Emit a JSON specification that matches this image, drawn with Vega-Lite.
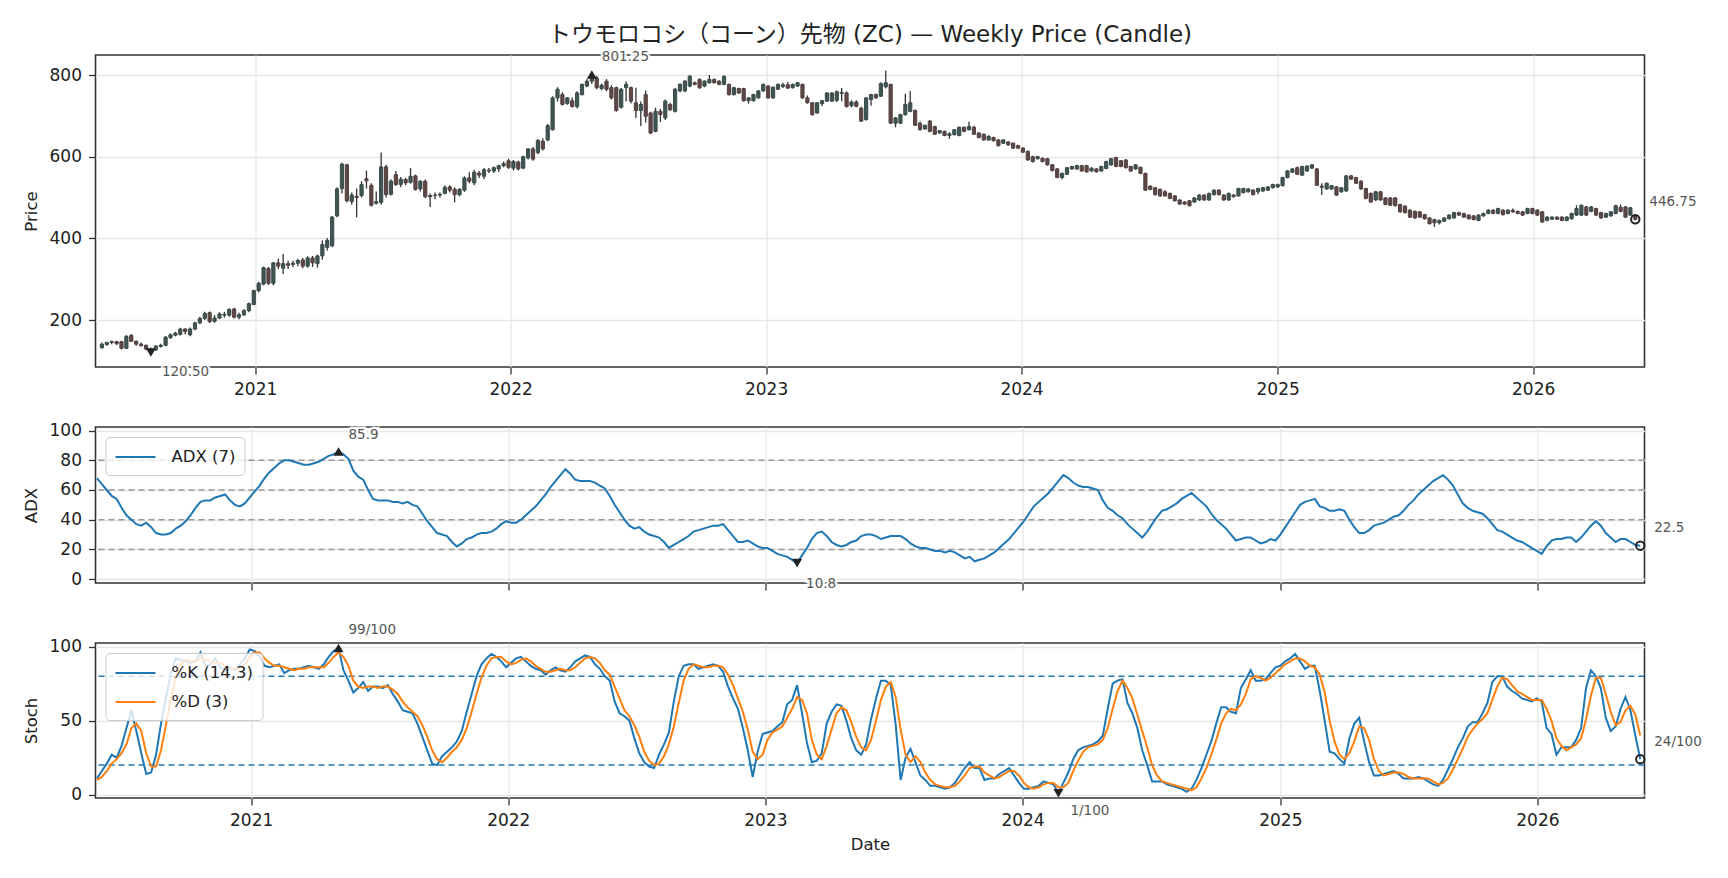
{
"$schema": "https://vega.github.io/schema/vega-lite/v6.json",
"background": "white",
"padding": {"left": 21.5, "top": 22, "right": 10, "bottom": 10},
"config": {
 "font": "DejaVu Sans, Noto Sans CJK JP, sans-serif",
 "view": {"stroke": "#333333", "strokeWidth": 1.6},
 "axis": {"domain": false, "grid": true, "gridColor": "#e6e6e6", "gridWidth": 1.3, "tickColor": "#333333", "tickSize": 7, "tickWidth": 1.3, "labelFontSize": 17, "labelColor": "#222222", "labelPadding": 7, "labelOverlap": false, "titleFontSize": 16.5, "titleFontWeight": "normal", "titleColor": "#222222", "labelFont": "DejaVu Sans", "titleFont": "DejaVu Sans"},
 "axisY": {"titlePadding": 10, "labelOverlap": false},
 "axisQuantitative": {"labelOverlap": false},
 "legend": {"orient": "top-left", "offset": 10, "fillColor": "rgba(255,255,255,0.8)", "strokeColor": "#cccccc", "cornerRadius": 4, "padding": 9, "symbolType": "M-2,0H2", "symbolSize": 400, "symbolStrokeWidth": 2, "symbolOffset": 10, "labelFontSize": 16.5, "labelColor": "#222222", "labelFont": "DejaVu Sans", "labelOffset": 25, "rowPadding": 9, "title": null}
},
"datasets": {"w": [
{"t":"2020-05-27","o":132,"h":145,"l":130,"c":141,"a":68,"k":11,"d":10},
{"t":"2020-06-03","o":140,"h":147,"l":137,"c":145,"a":64,"k":16,"d":12},
{"t":"2020-06-10","o":145,"h":150,"l":141,"c":147,"a":60,"k":21,"d":16},
{"t":"2020-06-17","o":147,"h":149,"l":139,"c":142,"a":56,"k":27,"d":21},
{"t":"2020-06-24","o":147,"h":149,"l":128,"c":131,"a":54,"k":25,"d":24},
{"t":"2020-07-01","o":131,"h":163,"l":129,"c":160,"a":48,"k":33,"d":28},
{"t":"2020-07-08","o":162,"h":166,"l":146,"c":148,"a":43,"k":45,"d":34},
{"t":"2020-07-15","o":148,"h":150,"l":137,"c":141,"a":40,"k":57,"d":45},
{"t":"2020-07-22","o":141,"h":145,"l":135,"c":137,"a":37,"k":43,"d":48},
{"t":"2020-07-29","o":138,"h":140,"l":126,"c":129,"a":36,"k":28,"d":43},
{"t":"2020-08-05","o":129,"h":133,"l":119,"c":120.5,"a":38,"k":14,"d":28},
{"t":"2020-08-12","o":127,"h":139,"l":124,"c":136,"a":35,"k":15,"d":19},
{"t":"2020-08-19","o":135,"h":142,"l":133,"c":138,"a":31,"k":27,"d":19},
{"t":"2020-08-26","o":138,"h":161,"l":136,"c":158,"a":30,"k":48,"d":30},
{"t":"2020-09-02","o":157,"h":167,"l":154,"c":164,"a":30,"k":65,"d":47},
{"t":"2020-09-09","o":163,"h":171,"l":160,"c":168,"a":31,"k":82,"d":65},
{"t":"2020-09-16","o":165,"h":181,"l":162,"c":178,"a":34,"k":92,"d":80},
{"t":"2020-09-23","o":178,"h":180,"l":165,"c":172,"a":36,"k":91,"d":88},
{"t":"2020-09-30","o":164,"h":182,"l":160,"c":178,"a":39,"k":90,"d":91},
{"t":"2020-10-07","o":178,"h":196,"l":175,"c":193,"a":43,"k":89,"d":90},
{"t":"2020-10-14","o":193,"h":208,"l":190,"c":204,"a":48,"k":90,"d":90},
{"t":"2020-10-21","o":204,"h":220,"l":200,"c":216,"a":52,"k":96,"d":92},
{"t":"2020-10-28","o":218,"h":221,"l":193,"c":196,"a":53,"k":87,"d":91},
{"t":"2020-11-04","o":197,"h":212,"l":193,"c":205,"a":53,"k":88,"d":90},
{"t":"2020-11-11","o":205,"h":219,"l":202,"c":215,"a":55,"k":92,"d":89},
{"t":"2020-11-18","o":212,"h":220,"l":206,"c":214,"a":56,"k":86,"d":89},
{"t":"2020-11-25","o":212,"h":229,"l":208,"c":226,"a":57,"k":84,"d":87},
{"t":"2020-12-02","o":227,"h":230,"l":204,"c":207,"a":53,"k":86,"d":85},
{"t":"2020-12-09","o":207,"h":218,"l":202,"c":213,"a":50,"k":84,"d":85},
{"t":"2020-12-16","o":213,"h":227,"l":210,"c":223,"a":49,"k":88,"d":86},
{"t":"2020-12-23","o":223,"h":243,"l":219,"c":240,"a":51,"k":92,"d":88},
{"t":"2020-12-30","o":238,"h":274,"l":236,"c":272,"a":55,"k":98,"d":93},
{"t":"2021-01-06","o":272,"h":294,"l":268,"c":290,"a":59,"k":97,"d":96},
{"t":"2021-01-13","o":288,"h":331,"l":285,"c":328,"a":63,"k":93,"d":96},
{"t":"2021-01-20","o":326,"h":330,"l":286,"c":290,"a":68,"k":87,"d":92},
{"t":"2021-01-27","o":290,"h":342,"l":285,"c":340,"a":72,"k":86,"d":89},
{"t":"2021-02-03","o":340,"h":350,"l":325,"c":332,"a":75,"k":87,"d":87},
{"t":"2021-02-10","o":327,"h":362,"l":313,"c":338,"a":78,"k":88,"d":87},
{"t":"2021-02-17","o":338,"h":345,"l":325,"c":334,"a":80,"k":82,"d":86},
{"t":"2021-02-24","o":336,"h":345,"l":330,"c":339,"a":80,"k":84,"d":85},
{"t":"2021-03-03","o":339,"h":350,"l":332,"c":346,"a":79,"k":85,"d":84},
{"t":"2021-03-10","o":347,"h":352,"l":327,"c":332,"a":78,"k":85,"d":85},
{"t":"2021-03-17","o":332,"h":356,"l":328,"c":352,"a":77,"k":86,"d":85},
{"t":"2021-03-24","o":352,"h":357,"l":330,"c":340,"a":77,"k":87,"d":86},
{"t":"2021-03-31","o":338,"h":360,"l":328,"c":357,"a":78,"k":86,"d":86},
{"t":"2021-04-07","o":357,"h":395,"l":348,"c":385,"a":79,"k":85,"d":86},
{"t":"2021-04-14","o":378,"h":401,"l":370,"c":395,"a":81,"k":88,"d":86},
{"t":"2021-04-21","o":382,"h":455,"l":378,"c":452,"a":83,"k":93,"d":89},
{"t":"2021-04-28","o":455,"h":525,"l":452,"c":521,"a":84,"k":97,"d":93},
{"t":"2021-05-05","o":522,"h":585,"l":510,"c":582,"a":85.9,"k":99,"d":96},
{"t":"2021-05-12","o":580,"h":583,"l":488,"c":492,"a":84,"k":84,"d":93},
{"t":"2021-05-19","o":490,"h":512,"l":482,"c":506,"a":81,"k":77,"d":87},
{"t":"2021-05-26","o":503,"h":522,"l":452,"c":500,"a":73,"k":69,"d":77},
{"t":"2021-06-02","o":505,"h":540,"l":500,"c":532,"a":69,"k":72,"d":73},
{"t":"2021-06-09","o":546,"h":566,"l":522,"c":541,"a":67,"k":76,"d":72},
{"t":"2021-06-16","o":530,"h":535,"l":478,"c":481,"a":60,"k":70,"d":73},
{"t":"2021-06-23","o":486,"h":515,"l":483,"c":490,"a":54,"k":73,"d":73},
{"t":"2021-06-30","o":488,"h":610,"l":482,"c":575,"a":53,"k":73,"d":72},
{"t":"2021-07-07","o":575,"h":580,"l":500,"c":507,"a":53,"k":72,"d":73},
{"t":"2021-07-14","o":508,"h":545,"l":505,"c":540,"a":53,"k":74,"d":73},
{"t":"2021-07-21","o":556,"h":565,"l":528,"c":532,"a":52,"k":68,"d":71},
{"t":"2021-07-28","o":532,"h":550,"l":525,"c":545,"a":52,"k":63,"d":68},
{"t":"2021-08-04","o":544,"h":548,"l":530,"c":536,"a":51,"k":57,"d":63},
{"t":"2021-08-11","o":537,"h":572,"l":534,"c":552,"a":52,"k":56,"d":59},
{"t":"2021-08-18","o":553,"h":556,"l":517,"c":520,"a":50,"k":55,"d":56},
{"t":"2021-08-25","o":521,"h":542,"l":515,"c":540,"a":49,"k":48,"d":53},
{"t":"2021-09-01","o":540,"h":544,"l":498,"c":502,"a":44,"k":39,"d":47},
{"t":"2021-09-08","o":502,"h":510,"l":477,"c":505,"a":39,"k":30,"d":39},
{"t":"2021-09-15","o":505,"h":512,"l":496,"c":506,"a":35,"k":21,"d":30},
{"t":"2021-09-22","o":506,"h":512,"l":500,"c":508,"a":31,"k":20,"d":24},
{"t":"2021-09-29","o":510,"h":530,"l":508,"c":525,"a":30,"k":26,"d":22},
{"t":"2021-10-06","o":526,"h":530,"l":512,"c":518,"a":29,"k":29,"d":25},
{"t":"2021-10-13","o":520,"h":525,"l":488,"c":507,"a":25,"k":32,"d":29},
{"t":"2021-10-20","o":507,"h":523,"l":503,"c":520,"a":22,"k":36,"d":32},
{"t":"2021-10-27","o":518,"h":552,"l":514,"c":548,"a":24,"k":43,"d":37},
{"t":"2021-11-03","o":548,"h":562,"l":535,"c":540,"a":27,"k":56,"d":45},
{"t":"2021-11-10","o":536,"h":568,"l":530,"c":562,"a":28,"k":68,"d":56},
{"t":"2021-11-17","o":560,"h":565,"l":548,"c":555,"a":30,"k":80,"d":68},
{"t":"2021-11-24","o":552,"h":572,"l":545,"c":568,"a":31,"k":88,"d":79},
{"t":"2021-12-01","o":567,"h":572,"l":560,"c":565,"a":31,"k":92,"d":87},
{"t":"2021-12-08","o":565,"h":576,"l":560,"c":573,"a":32,"k":95,"d":92},
{"t":"2021-12-15","o":570,"h":580,"l":563,"c":578,"a":34,"k":93,"d":93},
{"t":"2021-12-22","o":578,"h":588,"l":574,"c":583,"a":37,"k":90,"d":93},
{"t":"2021-12-29","o":590,"h":595,"l":570,"c":574,"a":39,"k":86,"d":90},
{"t":"2022-01-05","o":572,"h":592,"l":566,"c":588,"a":38,"k":89,"d":88},
{"t":"2022-01-12","o":587,"h":590,"l":566,"c":570,"a":38,"k":92,"d":89},
{"t":"2022-01-19","o":572,"h":602,"l":569,"c":600,"a":40,"k":93,"d":91},
{"t":"2022-01-26","o":597,"h":621,"l":593,"c":619,"a":43,"k":90,"d":92},
{"t":"2022-02-02","o":619,"h":624,"l":590,"c":594,"a":46,"k":87,"d":90},
{"t":"2022-02-09","o":610,"h":643,"l":606,"c":640,"a":49,"k":85,"d":87},
{"t":"2022-02-16","o":638,"h":645,"l":615,"c":619,"a":53,"k":84,"d":85},
{"t":"2022-02-23","o":641,"h":680,"l":638,"c":676,"a":57,"k":81,"d":83},
{"t":"2022-03-02","o":666,"h":748,"l":664,"c":744,"a":62,"k":84,"d":83},
{"t":"2022-03-09","o":744,"h":770,"l":735,"c":765,"a":66,"k":86,"d":84},
{"t":"2022-03-16","o":752,"h":758,"l":725,"c":728,"a":70,"k":84,"d":85},
{"t":"2022-03-23","o":730,"h":746,"l":727,"c":744,"a":74,"k":83,"d":84},
{"t":"2022-03-30","o":737,"h":745,"l":720,"c":723,"a":71,"k":86,"d":84},
{"t":"2022-04-06","o":723,"h":760,"l":718,"c":756,"a":67,"k":90,"d":86},
{"t":"2022-04-13","o":752,"h":779,"l":750,"c":777,"a":66,"k":92,"d":89},
{"t":"2022-04-20","o":773,"h":790,"l":770,"c":785,"a":66,"k":94,"d":92},
{"t":"2022-04-27","o":785,"h":805,"l":778,"c":801.25,"a":66,"k":93,"d":93},
{"t":"2022-05-04","o":793,"h":798,"l":765,"c":769,"a":65,"k":88,"d":92},
{"t":"2022-05-11","o":767,"h":779,"l":763,"c":775,"a":63,"k":85,"d":89},
{"t":"2022-05-18","o":785,"h":790,"l":760,"c":765,"a":61,"k":80,"d":84},
{"t":"2022-05-25","o":769,"h":775,"l":740,"c":744,"a":56,"k":77,"d":81},
{"t":"2022-06-01","o":769,"h":772,"l":710,"c":713,"a":50,"k":63,"d":73},
{"t":"2022-06-08","o":721,"h":768,"l":718,"c":765,"a":45,"k":55,"d":65},
{"t":"2022-06-15","o":769,"h":785,"l":735,"c":777,"a":40,"k":53,"d":57},
{"t":"2022-06-22","o":769,"h":772,"l":730,"c":736,"a":36,"k":50,"d":53},
{"t":"2022-06-29","o":732,"h":769,"l":695,"c":713,"a":34,"k":38,"d":47},
{"t":"2022-07-06","o":713,"h":735,"l":675,"c":728,"a":35,"k":28,"d":39},
{"t":"2022-07-13","o":752,"h":762,"l":684,"c":699,"a":32,"k":22,"d":29},
{"t":"2022-07-20","o":707,"h":710,"l":655,"c":658,"a":30,"k":19,"d":23},
{"t":"2022-07-27","o":662,"h":720,"l":660,"c":711,"a":29,"k":18,"d":20},
{"t":"2022-08-03","o":711,"h":717,"l":685,"c":703,"a":28,"k":27,"d":21},
{"t":"2022-08-10","o":695,"h":740,"l":690,"c":736,"a":25,"k":34,"d":26},
{"t":"2022-08-17","o":728,"h":732,"l":712,"c":715,"a":21,"k":42,"d":34},
{"t":"2022-08-24","o":711,"h":768,"l":708,"c":765,"a":23,"k":63,"d":46},
{"t":"2022-08-31","o":761,"h":780,"l":758,"c":777,"a":25,"k":80,"d":62},
{"t":"2022-09-07","o":761,"h":787,"l":758,"c":785,"a":27,"k":87,"d":77},
{"t":"2022-09-14","o":773,"h":800,"l":770,"c":797,"a":29,"k":88,"d":85},
{"t":"2022-09-21","o":781,"h":784,"l":775,"c":777,"a":32,"k":88,"d":88},
{"t":"2022-09-28","o":789,"h":792,"l":766,"c":769,"a":33,"k":85,"d":87},
{"t":"2022-10-05","o":773,"h":787,"l":770,"c":785,"a":34,"k":86,"d":86},
{"t":"2022-10-12","o":781,"h":800,"l":779,"c":789,"a":35,"k":87,"d":86},
{"t":"2022-10-19","o":789,"h":792,"l":779,"c":781,"a":36,"k":88,"d":87},
{"t":"2022-10-26","o":785,"h":787,"l":775,"c":777,"a":36,"k":87,"d":87},
{"t":"2022-11-02","o":777,"h":799,"l":775,"c":797,"a":37,"k":83,"d":86},
{"t":"2022-11-09","o":777,"h":779,"l":750,"c":752,"a":33,"k":73,"d":81},
{"t":"2022-11-16","o":752,"h":771,"l":750,"c":769,"a":29,"k":65,"d":74},
{"t":"2022-11-23","o":767,"h":769,"l":754,"c":756,"a":25,"k":58,"d":65},
{"t":"2022-11-30","o":767,"h":769,"l":735,"c":737,"a":25,"k":45,"d":56},
{"t":"2022-12-07","o":737,"h":746,"l":730,"c":744,"a":26,"k":30,"d":44},
{"t":"2022-12-14","o":737,"h":754,"l":735,"c":752,"a":24,"k":12,"d":29},
{"t":"2022-12-21","o":744,"h":763,"l":742,"c":761,"a":22,"k":29,"d":24},
{"t":"2022-12-28","o":761,"h":779,"l":759,"c":777,"a":21,"k":41,"d":27},
{"t":"2023-01-04","o":773,"h":775,"l":742,"c":744,"a":21,"k":42,"d":37},
{"t":"2023-01-11","o":744,"h":772,"l":742,"c":770,"a":19,"k":43,"d":42},
{"t":"2023-01-18","o":765,"h":779,"l":763,"c":777,"a":17,"k":46,"d":44},
{"t":"2023-01-25","o":772,"h":781,"l":768,"c":776,"a":16,"k":49,"d":46},
{"t":"2023-02-01","o":776,"h":783,"l":766,"c":768,"a":15,"k":61,"d":52},
{"t":"2023-02-08","o":769,"h":779,"l":767,"c":777,"a":13,"k":64,"d":58},
{"t":"2023-02-15","o":773,"h":783,"l":771,"c":781,"a":10.8,"k":74,"d":66},
{"t":"2023-02-22","o":777,"h":779,"l":742,"c":744,"a":16,"k":55,"d":64},
{"t":"2023-03-01","o":744,"h":750,"l":730,"c":732,"a":21,"k":35,"d":55},
{"t":"2023-03-08","o":732,"h":734,"l":700,"c":703,"a":27,"k":22,"d":37},
{"t":"2023-03-15","o":707,"h":734,"l":705,"c":732,"a":31,"k":23,"d":27},
{"t":"2023-03-22","o":730,"h":739,"l":724,"c":737,"a":32,"k":28,"d":24},
{"t":"2023-03-29","o":736,"h":758,"l":734,"c":756,"a":29,"k":48,"d":33},
{"t":"2023-04-05","o":736,"h":758,"l":734,"c":756,"a":25,"k":56,"d":44},
{"t":"2023-04-12","o":738,"h":762,"l":734,"c":759,"a":23,"k":61,"d":55},
{"t":"2023-04-19","o":755,"h":768,"l":736,"c":757,"a":22,"k":60,"d":59},
{"t":"2023-04-26","o":756,"h":760,"l":720,"c":723,"a":23,"k":50,"d":57},
{"t":"2023-05-03","o":725,"h":738,"l":721,"c":734,"a":25,"k":38,"d":49},
{"t":"2023-05-10","o":734,"h":738,"l":721,"c":723,"a":26,"k":30,"d":39},
{"t":"2023-05-17","o":719,"h":722,"l":685,"c":687,"a":29,"k":27,"d":32},
{"t":"2023-05-24","o":691,"h":746,"l":688,"c":744,"a":30,"k":34,"d":30},
{"t":"2023-05-31","o":740,"h":754,"l":725,"c":752,"a":30,"k":51,"d":37},
{"t":"2023-06-07","o":752,"h":755,"l":742,"c":744,"a":29,"k":65,"d":50},
{"t":"2023-06-14","o":748,"h":782,"l":746,"c":779,"a":27,"k":77,"d":64},
{"t":"2023-06-21","o":771,"h":811,"l":767,"c":781,"a":28,"k":77,"d":73},
{"t":"2023-06-28","o":777,"h":779,"l":680,"c":682,"a":29,"k":74,"d":76},
{"t":"2023-07-05","o":682,"h":697,"l":672,"c":695,"a":29,"k":47,"d":66},
{"t":"2023-07-12","o":682,"h":705,"l":680,"c":703,"a":29,"k":10,"d":44},
{"t":"2023-07-19","o":703,"h":754,"l":700,"c":728,"a":27,"k":25,"d":27},
{"t":"2023-07-26","o":711,"h":760,"l":709,"c":732,"a":24,"k":31,"d":22},
{"t":"2023-08-02","o":713,"h":716,"l":675,"c":677,"a":22,"k":22,"d":26},
{"t":"2023-08-09","o":682,"h":686,"l":664,"c":666,"a":21,"k":13,"d":22},
{"t":"2023-08-16","o":668,"h":678,"l":666,"c":677,"a":21,"k":10,"d":15},
{"t":"2023-08-23","o":687,"h":690,"l":660,"c":662,"a":20,"k":6,"d":10},
{"t":"2023-08-30","o":674,"h":676,"l":653,"c":655,"a":19,"k":6,"d":7},
{"t":"2023-09-06","o":658,"h":665,"l":656,"c":664,"a":19,"k":5,"d":6},
{"t":"2023-09-13","o":662,"h":664,"l":650,"c":652,"a":18,"k":4,"d":5},
{"t":"2023-09-20","o":652,"h":660,"l":644,"c":656,"a":19,"k":5,"d":5},
{"t":"2023-09-27","o":654,"h":667,"l":652,"c":666,"a":18,"k":8,"d":6},
{"t":"2023-10-04","o":652,"h":674,"l":650,"c":672,"a":16,"k":13,"d":9},
{"t":"2023-10-11","o":672,"h":674,"l":660,"c":662,"a":14,"k":18,"d":13},
{"t":"2023-10-18","o":666,"h":686,"l":664,"c":674,"a":15,"k":22,"d":18},
{"t":"2023-10-25","o":672,"h":676,"l":653,"c":655,"a":12,"k":18,"d":19},
{"t":"2023-11-01","o":658,"h":660,"l":645,"c":647,"a":13,"k":18,"d":19},
{"t":"2023-11-08","o":655,"h":657,"l":639,"c":641,"a":14,"k":10,"d":15},
{"t":"2023-11-15","o":641,"h":652,"l":639,"c":650,"a":16,"k":11,"d":13},
{"t":"2023-11-22","o":647,"h":649,"l":637,"c":639,"a":18,"k":11,"d":11},
{"t":"2023-11-29","o":641,"h":643,"l":625,"c":627,"a":21,"k":14,"d":12},
{"t":"2023-12-06","o":633,"h":643,"l":631,"c":641,"a":24,"k":16,"d":14},
{"t":"2023-12-13","o":636,"h":638,"l":627,"c":629,"a":27,"k":18,"d":16},
{"t":"2023-12-20","o":633,"h":635,"l":619,"c":621,"a":31,"k":13,"d":16},
{"t":"2023-12-27","o":627,"h":629,"l":619,"c":621,"a":35,"k":8,"d":13},
{"t":"2024-01-03","o":621,"h":623,"l":609,"c":611,"a":39,"k":4,"d":8},
{"t":"2024-01-10","o":613,"h":615,"l":590,"c":592,"a":44,"k":4,"d":5},
{"t":"2024-01-17","o":600,"h":602,"l":586,"c":588,"a":49,"k":5,"d":4},
{"t":"2024-01-24","o":595,"h":602,"l":593,"c":600,"a":52,"k":6,"d":5},
{"t":"2024-01-31","o":596,"h":598,"l":586,"c":588,"a":55,"k":9,"d":7},
{"t":"2024-02-07","o":595,"h":597,"l":578,"c":580,"a":58,"k":8,"d":8},
{"t":"2024-02-14","o":580,"h":582,"l":564,"c":566,"a":62,"k":7,"d":8},
{"t":"2024-02-21","o":570,"h":572,"l":547,"c":549,"a":66,"k":1,"d":5},
{"t":"2024-02-28","o":549,"h":561,"l":545,"c":559,"a":70,"k":8,"d":5},
{"t":"2024-03-06","o":557,"h":575,"l":555,"c":573,"a":68,"k":15,"d":8},
{"t":"2024-03-13","o":570,"h":578,"l":568,"c":576,"a":65,"k":24,"d":16},
{"t":"2024-03-20","o":570,"h":580,"l":568,"c":578,"a":63,"k":30,"d":23},
{"t":"2024-03-27","o":578,"h":580,"l":563,"c":565,"a":62,"k":32,"d":29},
{"t":"2024-04-03","o":578,"h":580,"l":561,"c":563,"a":62,"k":33,"d":32},
{"t":"2024-04-10","o":565,"h":574,"l":563,"c":572,"a":61,"k":34,"d":33},
{"t":"2024-04-17","o":570,"h":572,"l":561,"c":563,"a":60,"k":36,"d":34},
{"t":"2024-04-24","o":565,"h":578,"l":563,"c":576,"a":53,"k":40,"d":37},
{"t":"2024-05-01","o":571,"h":590,"l":569,"c":588,"a":48,"k":58,"d":45},
{"t":"2024-05-08","o":580,"h":597,"l":578,"c":595,"a":46,"k":75,"d":58},
{"t":"2024-05-15","o":598,"h":600,"l":574,"c":576,"a":43,"k":77,"d":70},
{"t":"2024-05-22","o":590,"h":592,"l":574,"c":576,"a":41,"k":78,"d":77},
{"t":"2024-05-29","o":592,"h":594,"l":571,"c":573,"a":37,"k":62,"d":72},
{"t":"2024-06-05","o":576,"h":578,"l":563,"c":565,"a":34,"k":55,"d":65},
{"t":"2024-06-12","o":570,"h":582,"l":568,"c":580,"a":31,"k":45,"d":54},
{"t":"2024-06-19","o":574,"h":576,"l":557,"c":559,"a":28,"k":30,"d":43},
{"t":"2024-06-26","o":559,"h":561,"l":516,"c":518,"a":32,"k":20,"d":32},
{"t":"2024-07-03","o":528,"h":530,"l":518,"c":520,"a":37,"k":9,"d":20},
{"t":"2024-07-10","o":524,"h":526,"l":505,"c":507,"a":42,"k":9,"d":13},
{"t":"2024-07-17","o":520,"h":522,"l":502,"c":504,"a":46,"k":9,"d":9},
{"t":"2024-07-24","o":514,"h":518,"l":502,"c":504,"a":47,"k":7,"d":8},
{"t":"2024-07-31","o":510,"h":512,"l":496,"c":498,"a":49,"k":6,"d":7},
{"t":"2024-08-07","o":504,"h":506,"l":490,"c":492,"a":51,"k":5,"d":6},
{"t":"2024-08-14","o":494,"h":496,"l":482,"c":484,"a":54,"k":4,"d":5},
{"t":"2024-08-21","o":489,"h":491,"l":482,"c":484,"a":56,"k":2,"d":4},
{"t":"2024-08-28","o":492,"h":494,"l":478,"c":480,"a":58,"k":4,"d":3},
{"t":"2024-09-04","o":489,"h":501,"l":487,"c":499,"a":55,"k":10,"d":5},
{"t":"2024-09-11","o":494,"h":508,"l":492,"c":506,"a":52,"k":18,"d":11},
{"t":"2024-09-18","o":506,"h":508,"l":492,"c":494,"a":49,"k":27,"d":18},
{"t":"2024-09-25","o":494,"h":512,"l":492,"c":510,"a":44,"k":36,"d":27},
{"t":"2024-10-02","o":507,"h":520,"l":505,"c":518,"a":40,"k":48,"d":37},
{"t":"2024-10-09","o":518,"h":520,"l":505,"c":507,"a":37,"k":59,"d":48},
{"t":"2024-10-16","o":506,"h":508,"l":492,"c":494,"a":34,"k":59,"d":55},
{"t":"2024-10-23","o":494,"h":512,"l":492,"c":510,"a":30,"k":56,"d":58},
{"t":"2024-10-30","o":506,"h":508,"l":500,"c":502,"a":26,"k":55,"d":57},
{"t":"2024-11-06","o":504,"h":524,"l":502,"c":522,"a":27,"k":72,"d":61},
{"t":"2024-11-13","o":512,"h":524,"l":510,"c":522,"a":28,"k":78,"d":68},
{"t":"2024-11-20","o":514,"h":523,"l":512,"c":521,"a":28,"k":84,"d":78},
{"t":"2024-11-27","o":518,"h":520,"l":505,"c":507,"a":26,"k":77,"d":80},
{"t":"2024-12-04","o":514,"h":524,"l":508,"c":522,"a":24,"k":77,"d":79},
{"t":"2024-12-11","o":516,"h":526,"l":514,"c":524,"a":25,"k":78,"d":77},
{"t":"2024-12-18","o":518,"h":528,"l":516,"c":526,"a":27,"k":82,"d":79},
{"t":"2024-12-25","o":524,"h":534,"l":522,"c":532,"a":26,"k":86,"d":82},
{"t":"2025-01-01","o":526,"h":534,"l":524,"c":532,"a":30,"k":87,"d":85},
{"t":"2025-01-08","o":529,"h":551,"l":527,"c":549,"a":35,"k":90,"d":88},
{"t":"2025-01-15","o":549,"h":567,"l":547,"c":565,"a":40,"k":92,"d":90},
{"t":"2025-01-22","o":562,"h":572,"l":560,"c":570,"a":45,"k":95,"d":92},
{"t":"2025-01-29","o":573,"h":576,"l":555,"c":557,"a":50,"k":90,"d":92},
{"t":"2025-02-05","o":555,"h":578,"l":553,"c":576,"a":52,"k":85,"d":90},
{"t":"2025-02-12","o":565,"h":579,"l":563,"c":577,"a":53,"k":87,"d":87},
{"t":"2025-02-19","o":572,"h":582,"l":570,"c":580,"a":54,"k":87,"d":86},
{"t":"2025-02-26","o":570,"h":572,"l":528,"c":530,"a":49,"k":70,"d":81},
{"t":"2025-03-05","o":528,"h":535,"l":506,"c":525,"a":48,"k":50,"d":69},
{"t":"2025-03-12","o":521,"h":537,"l":519,"c":535,"a":46,"k":29,"d":50},
{"t":"2025-03-19","o":521,"h":531,"l":519,"c":529,"a":46,"k":28,"d":36},
{"t":"2025-03-26","o":526,"h":528,"l":504,"c":506,"a":47,"k":24,"d":27},
{"t":"2025-04-02","o":514,"h":526,"l":512,"c":524,"a":46,"k":21,"d":24},
{"t":"2025-04-09","o":516,"h":555,"l":514,"c":553,"a":40,"k":38,"d":28},
{"t":"2025-04-16","o":553,"h":555,"l":543,"c":545,"a":35,"k":48,"d":36},
{"t":"2025-04-23","o":549,"h":551,"l":533,"c":535,"a":31,"k":52,"d":46},
{"t":"2025-04-30","o":540,"h":542,"l":519,"c":521,"a":31,"k":36,"d":45},
{"t":"2025-05-07","o":522,"h":524,"l":496,"c":498,"a":33,"k":22,"d":37},
{"t":"2025-05-14","o":510,"h":512,"l":487,"c":489,"a":36,"k":13,"d":24},
{"t":"2025-05-21","o":494,"h":516,"l":492,"c":514,"a":37,"k":13,"d":16},
{"t":"2025-05-28","o":514,"h":516,"l":492,"c":494,"a":38,"k":14,"d":13},
{"t":"2025-06-04","o":499,"h":501,"l":481,"c":483,"a":40,"k":15,"d":14},
{"t":"2025-06-11","o":499,"h":501,"l":479,"c":481,"a":42,"k":16,"d":15},
{"t":"2025-06-18","o":499,"h":501,"l":478,"c":480,"a":43,"k":14,"d":15},
{"t":"2025-06-25","o":483,"h":485,"l":463,"c":465,"a":46,"k":11,"d":14},
{"t":"2025-07-02","o":479,"h":481,"l":461,"c":463,"a":50,"k":11,"d":12},
{"t":"2025-07-09","o":469,"h":471,"l":450,"c":452,"a":53,"k":11,"d":11},
{"t":"2025-07-16","o":466,"h":468,"l":448,"c":450,"a":57,"k":12,"d":11},
{"t":"2025-07-23","o":465,"h":467,"l":450,"c":452,"a":60,"k":11,"d":11},
{"t":"2025-07-30","o":458,"h":460,"l":446,"c":448,"a":63,"k":9,"d":11},
{"t":"2025-08-06","o":450,"h":452,"l":434,"c":436,"a":66,"k":7,"d":9},
{"t":"2025-08-13","o":446,"h":448,"l":428,"c":438,"a":68,"k":6,"d":7},
{"t":"2025-08-20","o":438,"h":446,"l":434,"c":444,"a":70,"k":10,"d":8},
{"t":"2025-08-27","o":442,"h":452,"l":440,"c":450,"a":67,"k":17,"d":11},
{"t":"2025-09-03","o":448,"h":459,"l":446,"c":457,"a":63,"k":24,"d":17},
{"t":"2025-09-10","o":450,"h":465,"l":448,"c":463,"a":57,"k":32,"d":24},
{"t":"2025-09-17","o":463,"h":465,"l":455,"c":457,"a":51,"k":38,"d":31},
{"t":"2025-09-24","o":461,"h":463,"l":450,"c":452,"a":48,"k":46,"d":39},
{"t":"2025-10-01","o":457,"h":459,"l":446,"c":448,"a":46,"k":49,"d":44},
{"t":"2025-10-08","o":455,"h":457,"l":444,"c":446,"a":45,"k":49,"d":48},
{"t":"2025-10-15","o":444,"h":459,"l":442,"c":457,"a":44,"k":55,"d":51},
{"t":"2025-10-22","o":455,"h":463,"l":453,"c":461,"a":41,"k":62,"d":55},
{"t":"2025-10-29","o":461,"h":471,"l":459,"c":469,"a":37,"k":76,"d":64},
{"t":"2025-11-05","o":469,"h":471,"l":459,"c":461,"a":33,"k":80,"d":73},
{"t":"2025-11-12","o":461,"h":475,"l":459,"c":473,"a":32,"k":80,"d":79},
{"t":"2025-11-19","o":469,"h":471,"l":456,"c":458,"a":30,"k":73,"d":78},
{"t":"2025-11-26","o":461,"h":471,"l":459,"c":469,"a":28,"k":70,"d":74},
{"t":"2025-12-03","o":469,"h":473,"l":463,"c":465,"a":26,"k":68,"d":70},
{"t":"2025-12-10","o":466,"h":468,"l":459,"c":461,"a":25,"k":65,"d":68},
{"t":"2025-12-17","o":465,"h":467,"l":455,"c":457,"a":23,"k":64,"d":66},
{"t":"2025-12-24","o":461,"h":475,"l":459,"c":473,"a":21,"k":63,"d":64},
{"t":"2025-12-31","o":473,"h":475,"l":459,"c":461,"a":19,"k":65,"d":64},
{"t":"2026-01-07","o":469,"h":471,"l":455,"c":457,"a":17,"k":63,"d":64},
{"t":"2026-01-14","o":465,"h":467,"l":438,"c":440,"a":22,"k":45,"d":58},
{"t":"2026-01-21","o":444,"h":454,"l":442,"c":452,"a":26,"k":41,"d":50},
{"t":"2026-01-28","o":447,"h":454,"l":445,"c":452,"a":27,"k":27,"d":38},
{"t":"2026-02-04","o":452,"h":454,"l":445,"c":447,"a":27,"k":32,"d":33},
{"t":"2026-02-11","o":452,"h":454,"l":442,"c":444,"a":28,"k":32,"d":30},
{"t":"2026-02-18","o":444,"h":454,"l":442,"c":452,"a":28,"k":32,"d":32},
{"t":"2026-02-25","o":448,"h":463,"l":446,"c":461,"a":25,"k":37,"d":34},
{"t":"2026-03-04","o":457,"h":481,"l":455,"c":473,"a":28,"k":45,"d":38},
{"t":"2026-03-11","o":457,"h":483,"l":455,"c":481,"a":32,"k":72,"d":51},
{"t":"2026-03-18","o":477,"h":479,"l":455,"c":457,"a":36,"k":84,"d":67},
{"t":"2026-03-25","o":466,"h":479,"l":464,"c":477,"a":39,"k":80,"d":79},
{"t":"2026-04-01","o":473,"h":475,"l":455,"c":457,"a":36,"k":72,"d":79},
{"t":"2026-04-08","o":463,"h":465,"l":448,"c":450,"a":31,"k":52,"d":68},
{"t":"2026-04-15","o":452,"h":463,"l":450,"c":461,"a":28,"k":43,"d":56},
{"t":"2026-04-22","o":455,"h":467,"l":453,"c":465,"a":25,"k":46,"d":47},
{"t":"2026-04-29","o":461,"h":482,"l":459,"c":480,"a":27,"k":58,"d":49},
{"t":"2026-05-06","o":476,"h":483,"l":464,"c":466,"a":27,"k":66,"d":57},
{"t":"2026-05-13","o":477,"h":479,"l":450,"c":452,"a":25,"k":57,"d":60},
{"t":"2026-05-20","o":457,"h":477,"l":455,"c":475,"a":23,"k":40,"d":54},
{"t":"2026-05-27","o":455,"h":457,"l":444,"c":446.75,"a":22.5,"k":24,"d":40}
]},
"bounds": "flush",
"spacing": 60,
"resolve": {"scale": {"color": "independent"}},
"vconcat": [
{
 "width": 1549, "height": 312,
 "title": {"text": "トウモロコシ（コーン）先物 (ZC) — Weekly Price (Candle)", "fontSize": 23, "fontWeight": "normal", "color": "#222222", "anchor": "middle", "frame": "group", "offset": 3},
 "data": {"name": "w"},
 "layer": [
  {"mark": {"type": "rule", "color": "#333333", "strokeWidth": 1.3},
   "encoding": {
    "x": {"field": "t", "type": "temporal", "scale": {"domain": [{"year": 2020, "month": 5, "date": 25}, {"year": 2026, "month": 6, "date": 2}]}, "axis": {"title": null, "format": "%Y", "labelOverlap": false, "values": [{"year": 2021, "month": 1, "date": 1}, {"year": 2022, "month": 1, "date": 1}, {"year": 2023, "month": 1, "date": 1}, {"year": 2024, "month": 1, "date": 1}, {"year": 2025, "month": 1, "date": 1}, {"year": 2026, "month": 1, "date": 1}]}},
    "y": {"field": "l", "type": "quantitative", "scale": {"domain": [85, 849], "nice": false, "zero": false}, "axis": {"title": "Price", "labelOverlap": false, "values": [200, 400, 600, 800]}},
    "y2": {"field": "h"}}},
  {"mark": {"type": "bar", "size": 3.2, "strokeWidth": 1},
   "encoding": {
    "x": {"field": "t", "type": "temporal"},
    "y": {"field": "o", "type": "quantitative"},
    "y2": {"field": "c"},
    "fill": {"condition": {"test": "datum.c >= datum.o", "value": "#3e5553"}, "value": "#5e4646"},
    "stroke": {"condition": {"test": "datum.c >= datum.o", "value": "#3a4a49"}, "value": "#524040"}}},
  {"data": {"values": [{"t": "2020-08-05", "v": 120.5, "lab": "120.50"}]},
   "layer": [
    {"mark": {"type": "point", "shape": "triangle-down", "filled": true, "color": "#222222", "opacity": 1, "size": 100}, "encoding": {"x": {"field": "t", "type": "temporal"}, "y": {"field": "v", "type": "quantitative"}}},
    {"mark": {"type": "text", "align": "left", "baseline": "middle", "dx": 11, "dy": 19, "fontSize": 13.5, "fill": "white", "stroke": "white", "strokeWidth": 5, "strokeOpacity": 0.9}, "encoding": {"x": {"field": "t", "type": "temporal"}, "y": {"field": "v", "type": "quantitative"}, "text": {"field": "lab"}}},
    {"mark": {"type": "text", "align": "left", "baseline": "middle", "dx": 11, "dy": 19, "fontSize": 13.5, "color": "#555555"}, "encoding": {"x": {"field": "t", "type": "temporal"}, "y": {"field": "v", "type": "quantitative"}, "text": {"field": "lab"}}}
   ]},
  {"data": {"values": [{"t": "2022-04-27", "v": 801.25, "lab": "801.25"}]},
   "layer": [
    {"mark": {"type": "point", "shape": "triangle-up", "filled": true, "color": "#222222", "opacity": 1, "size": 100}, "encoding": {"x": {"field": "t", "type": "temporal"}, "y": {"field": "v", "type": "quantitative"}}},
    {"mark": {"type": "text", "align": "left", "baseline": "middle", "dx": 10, "dy": -18, "fontSize": 13.5, "fill": "white", "stroke": "white", "strokeWidth": 5, "strokeOpacity": 0.9}, "encoding": {"x": {"field": "t", "type": "temporal"}, "y": {"field": "v", "type": "quantitative"}, "text": {"field": "lab"}}},
    {"mark": {"type": "text", "align": "left", "baseline": "middle", "dx": 10, "dy": -18, "fontSize": 13.5, "color": "#555555"}, "encoding": {"x": {"field": "t", "type": "temporal"}, "y": {"field": "v", "type": "quantitative"}, "text": {"field": "lab"}}}
   ]},
  {"data": {"values": [{"t": "2026-05-27", "v": 446.75, "lab": "446.75"}]},
   "layer": [
    {"mark": {"type": "point", "shape": "circle", "filled": false, "color": "#222222", "opacity": 1, "size": 70, "strokeWidth": 2}, "encoding": {"x": {"field": "t", "type": "temporal"}, "y": {"field": "v", "type": "quantitative"}}},
    {"mark": {"type": "text", "align": "left", "baseline": "middle", "dx": 14, "dy": -17, "fontSize": 13.5, "color": "#555555"}, "encoding": {"x": {"field": "t", "type": "temporal"}, "y": {"field": "v", "type": "quantitative"}, "text": {"field": "lab"}}}
   ]}
 ]
},
{
 "width": 1549, "height": 156,
 "data": {"name": "w"},
 "layer": [
  {"data": {"values": [{"v": 20}, {"v": 40}, {"v": 60}, {"v": 80}]},
   "mark": {"type": "rule", "color": "#999999", "strokeWidth": 1.5, "strokeDash": [6, 4]},
   "encoding": {"y": {"field": "v", "type": "quantitative", "scale": {"domain": [-2.6, 102.4], "nice": false, "zero": false}, "axis": {"title": "ADX", "labelOverlap": false, "tickCount": 6, "values": [0, 20, 40, 60, 80, 100]}}}},
  {"mark": {"type": "line", "strokeWidth": 2},
   "encoding": {
    "x": {"field": "t", "type": "temporal", "scale": {"domain": [{"year": 2020, "month": 5, "date": 25}, {"year": 2026, "month": 6, "date": 2}]}, "axis": {"title": null, "labels": false, "values": [{"year": 2021, "month": 1, "date": 1}, {"year": 2022, "month": 1, "date": 1}, {"year": 2023, "month": 1, "date": 1}, {"year": 2024, "month": 1, "date": 1}, {"year": 2025, "month": 1, "date": 1}, {"year": 2026, "month": 1, "date": 1}]}},
    "y": {"field": "a", "type": "quantitative", "axis": {"title": "ADX", "labelOverlap": false, "tickCount": 6, "values": [0, 20, 40, 60, 80, 100]}},
    "color": {"datum": "ADX (7)", "type": "nominal", "scale": {"domain": ["ADX (7)"], "range": ["#1f77b4"]}, "legend": {}}}},
  {"data": {"values": [{"t": "2021-05-05", "v": 85.9, "lab": "85.9"}]},
   "layer": [
    {"mark": {"type": "point", "shape": "triangle-up", "filled": true, "color": "#222222", "opacity": 1, "size": 100}, "encoding": {"x": {"field": "t", "type": "temporal"}, "y": {"field": "v", "type": "quantitative"}}},
    {"mark": {"type": "text", "align": "left", "baseline": "middle", "dx": 10, "dy": -17, "fontSize": 13.5, "fill": "white", "stroke": "white", "strokeWidth": 5, "strokeOpacity": 0.9}, "encoding": {"x": {"field": "t", "type": "temporal"}, "y": {"field": "v", "type": "quantitative"}, "text": {"field": "lab"}}},
    {"mark": {"type": "text", "align": "left", "baseline": "middle", "dx": 10, "dy": -17, "fontSize": 13.5, "color": "#555555"}, "encoding": {"x": {"field": "t", "type": "temporal"}, "y": {"field": "v", "type": "quantitative"}, "text": {"field": "lab"}}}
   ]},
  {"data": {"values": [{"t": "2023-02-15", "v": 10.8, "lab": "10.8"}]},
   "layer": [
    {"mark": {"type": "point", "shape": "triangle-down", "filled": true, "color": "#222222", "opacity": 1, "size": 100}, "encoding": {"x": {"field": "t", "type": "temporal"}, "y": {"field": "v", "type": "quantitative"}}},
    {"mark": {"type": "text", "align": "left", "baseline": "middle", "dx": 9, "dy": 21, "fontSize": 13.5, "fill": "white", "stroke": "white", "strokeWidth": 5, "strokeOpacity": 0.9}, "encoding": {"x": {"field": "t", "type": "temporal"}, "y": {"field": "v", "type": "quantitative"}, "text": {"field": "lab"}}},
    {"mark": {"type": "text", "align": "left", "baseline": "middle", "dx": 9, "dy": 21, "fontSize": 13.5, "color": "#555555"}, "encoding": {"x": {"field": "t", "type": "temporal"}, "y": {"field": "v", "type": "quantitative"}, "text": {"field": "lab"}}}
   ]},
  {"data": {"values": [{"t": "2026-05-27", "v": 22.5, "lab": "22.5"}]},
   "layer": [
    {"mark": {"type": "point", "shape": "circle", "filled": false, "color": "#222222", "opacity": 1, "size": 70, "strokeWidth": 2}, "encoding": {"x": {"field": "t", "type": "temporal"}, "y": {"field": "v", "type": "quantitative"}}},
    {"mark": {"type": "text", "align": "left", "baseline": "middle", "dx": 14, "dy": -18, "fontSize": 13.5, "color": "#555555"}, "encoding": {"x": {"field": "t", "type": "temporal"}, "y": {"field": "v", "type": "quantitative"}, "text": {"field": "lab"}}}
   ]}
 ]
},
{
 "width": 1549, "height": 155,
 "data": {"name": "w"},
 "layer": [
  {"data": {"values": [{"v": 20}, {"v": 80}]},
   "mark": {"type": "rule", "color": "#1f77b4", "strokeWidth": 1.5, "strokeDash": [6, 4]},
   "encoding": {"y": {"field": "v", "type": "quantitative", "scale": {"domain": [-2.2, 102.4], "nice": false, "zero": false}, "axis": {"title": "Stoch", "labelOverlap": false, "values": [0, 50, 100]}}}},
  {"mark": {"type": "line", "strokeWidth": 2},
   "encoding": {
    "x": {"field": "t", "type": "temporal", "scale": {"domain": [{"year": 2020, "month": 5, "date": 25}, {"year": 2026, "month": 6, "date": 2}]}, "axis": {"title": "Date", "titlePadding": 8, "format": "%Y", "labelOverlap": false, "values": [{"year": 2021, "month": 1, "date": 1}, {"year": 2022, "month": 1, "date": 1}, {"year": 2023, "month": 1, "date": 1}, {"year": 2024, "month": 1, "date": 1}, {"year": 2025, "month": 1, "date": 1}, {"year": 2026, "month": 1, "date": 1}]}},
    "y": {"field": "k", "type": "quantitative"},
    "color": {"datum": "%K (14,3)", "type": "nominal", "scale": {"domain": ["%K (14,3)", "%D (3)"], "range": ["#1f77b4", "#ff7f0e"]}, "legend": {}}}},
  {"mark": {"type": "line", "strokeWidth": 2},
   "encoding": {
    "x": {"field": "t", "type": "temporal"},
    "y": {"field": "d", "type": "quantitative"},
    "color": {"datum": "%D (3)", "type": "nominal"}}},
  {"data": {"values": [{"t": "2021-05-05", "v": 99, "lab": "99/100"}]},
   "layer": [
    {"mark": {"type": "point", "shape": "triangle-up", "filled": true, "color": "#222222", "opacity": 1, "size": 100}, "encoding": {"x": {"field": "t", "type": "temporal"}, "y": {"field": "v", "type": "quantitative"}}},
    {"mark": {"type": "text", "align": "left", "baseline": "middle", "dx": 10, "dy": -18, "fontSize": 13.5, "color": "#555555"}, "encoding": {"x": {"field": "t", "type": "temporal"}, "y": {"field": "v", "type": "quantitative"}, "text": {"field": "lab"}}}
   ]},
  {"data": {"values": [{"t": "2024-02-21", "v": 1, "lab": "1/100"}]},
   "layer": [
    {"mark": {"type": "point", "shape": "triangle-down", "filled": true, "color": "#222222", "opacity": 1, "size": 100}, "encoding": {"x": {"field": "t", "type": "temporal"}, "y": {"field": "v", "type": "quantitative"}}},
    {"mark": {"type": "text", "align": "left", "baseline": "middle", "dx": 12, "dy": 18, "fontSize": 13.5, "color": "#555555"}, "encoding": {"x": {"field": "t", "type": "temporal"}, "y": {"field": "v", "type": "quantitative"}, "text": {"field": "lab"}}}
   ]},
  {"data": {"values": [{"t": "2026-05-27", "v": 24, "lab": "24/100"}]},
   "layer": [
    {"mark": {"type": "point", "shape": "circle", "filled": false, "color": "#222222", "opacity": 1, "size": 70, "strokeWidth": 2}, "encoding": {"x": {"field": "t", "type": "temporal"}, "y": {"field": "v", "type": "quantitative"}}},
    {"mark": {"type": "text", "align": "left", "baseline": "middle", "dx": 14, "dy": -17, "fontSize": 13.5, "color": "#555555"}, "encoding": {"x": {"field": "t", "type": "temporal"}, "y": {"field": "v", "type": "quantitative"}, "text": {"field": "lab"}}}
   ]}
 ]
}
]
}
